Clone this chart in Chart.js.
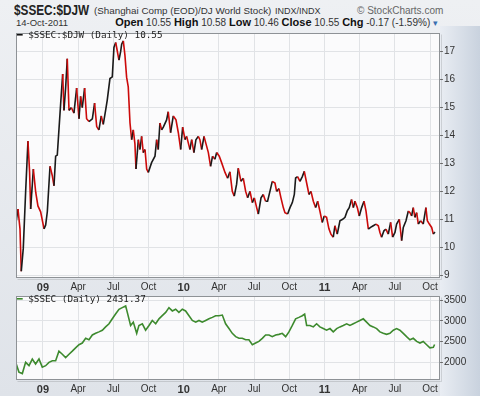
<!DOCTYPE html>
<html>
<head>
<meta charset="utf-8">
<script src="https://cdn.jsdelivr.net/npm/chart.js@4.4.0/dist/chart.umd.min.js"></script>
<style>
  html, body { margin: 0; padding: 0; }
  body {
    width: 480px; height: 396px; overflow: hidden; position: relative;
    background: linear-gradient(#eef0f3, #dfe3e9);
    font-family: "Liberation Sans", Arial, sans-serif; color: #222;
  }
  .abs { position: absolute; white-space: nowrap; }
  #strip { left: 440px; top: 26px; width: 40px; height: 370px;
    background: linear-gradient(90deg, #e9edf3, #c9d2de); }
  #title { left: 14px; top: 2px; font-size: 14px; font-weight: bold; transform: scaleX(0.84); transform-origin: left top; }
  #subtitle { left: 94px; top: 5px; font-size: 9.8px; color: #333; }
  #exch { left: 275px; top: 6px; font-size: 9px; color: #333; }
  #brand { left: 357px; top: 5px; font-size: 10px; color: #666; }
  #date { left: 16px; top: 17px; font-size: 9.5px; color: #333; }
  #quote { right: 42px; top: 16px; font-size: 10px; color: #333; }
  #quote b { font-size: 11px; color: #111; }
  #quote .arr { color: #3a6fb0; font-size: 9px; }
  .legend { font-family: "DejaVu Sans Mono", monospace; font-size: 9.3px; color: #222; }
  #leg1 { left: 17px; top: 29px; }
  #leg2 { left: 17px; top: 293px; }
  canvas { position: absolute; left: 0; }
  #c1 { top: 26px; }
  #c2 { top: 289px; }
</style>
</head>
<body>
<div class="abs" id="strip"></div>
<div class="abs" id="title">$SSEC:$DJW</div>
<div class="abs" id="subtitle">(Shanghai Comp (EOD)/DJ World Stock)</div>
<div class="abs" id="exch">INDX/INDX</div>
<div class="abs" id="brand">© StockCharts.com</div>
<div class="abs" id="date">14-Oct-2011</div>
<div class="abs" id="quote"><b>Open</b> 10.55 <b>High</b> 10.58 <b>Low</b> 10.46 <b>Close</b> 10.55 <b>Chg</b> -0.17 (-1.59%) <span class="arr">▾</span></div>
<canvas id="c1" width="480" height="266"></canvas>
<canvas id="c2" width="480" height="107"></canvas>
<div class="abs legend" id="leg1"><span style="color:#111">━</span> $SSEC:$DJW (Daily) 10.55</div>
<div class="abs legend" id="leg2"><span style="color:#3d8a2e">━</span> $SSEC (Daily) 2431.37</div>
<script>
// x values are months since Jan 2009 (0 = Jan 1 2009)
const ratioMonths = [
  -2.33,-2.13,-1.96,-1.85,-1.68,-1.48,-1.28,-1.14,-1.05,-0.82,-0.62,-0.43,-0.20,0.09,0.23,0.37,0.60,0.80,0.94,1.08,
  1.22,1.51,1.68,1.79,1.93,2.07,2.22,2.42,2.64,2.87,3.07,3.21,3.35,3.55,3.72,3.92,4.21,4.40,4.58,4.77,
  4.97,5.14,5.34,5.48,5.71,5.91,6.05,6.20,6.48,6.62,
  6.71,6.85,6.99,7.13,7.27,7.42,7.56,7.70,7.84,7.93,8.13,8.27,8.41,8.55,8.70,8.84,8.98,9.26,9.55,9.69,
  9.83,9.97,10.12,10.26,10.54,10.68,10.88,11.11,11.34,11.54,11.74,11.91,12.11,12.25,12.53,12.68,12.87,13.04,13.24,13.38,
  13.53,13.73,13.90,14.10,14.29,14.46,14.66,14.81,15.03,15.23,15.52,
  15.74,15.94,16.14,16.31,16.51,16.65,16.88,17.08,17.28,17.45,17.65,17.85,18.02,18.22,18.36,18.59,18.78,18.98,19.15,19.35,
  19.55,19.78,19.92,20.12,20.29,20.49,20.63,20.86,21.06,21.26,21.43,21.54,21.71,21.91,22.11,22.28,22.48,22.68,22.85,23.05,
  23.25,23.42,23.61,23.81,23.98,24.18,24.38,24.55,24.75,24.89,
  25.09,25.32,25.55,25.75,25.94,26.11,26.31,26.46,26.60,26.80,26.97,27.17,27.37,27.54,27.74,27.93,28.16,28.39,28.59,28.73,
  28.87,29.07,29.24,29.44,29.64,29.81,30.01,30.15,30.38,30.58,30.72,30.95,31.15,31.29,31.43,31.57,31.71,31.86,32.00,32.20,
  32.42,32.65,32.77,32.94,33.14,33.28,33.42
];
const ratioValues = [
  10.78,11.37,10.66,9.14,9.96,11.97,13.8,12.68,11.37,12.8,11.97,11.48,11.27,10.66,10.8,11.27,12.9,12.55,12.2,13.26,
  13.3,15.16,16.2,14.9,15.7,16.75,14.9,15.0,14.8,15.7,14.6,15.4,15.0,15.7,14.6,14.5,14.6,15.16,14.32,14.2,
  14.7,14.4,14.9,15.27,16.04,16.1,17.15,17.33,16.7,17.0,
  17.27,17.39,16.86,16.09,15.74,14.45,13.85,14.2,13.7,12.8,13.85,13.5,13.97,13.39,13.5,12.8,12.68,13.03,13.26,13.85,
  13.5,14.45,14.2,14.3,14.56,14.85,14.1,14.7,14.56,14.1,13.5,14.3,13.85,13.97,13.5,13.85,13.39,13.85,13.97,13.85,
  13.5,13.97,13.7,13.39,12.9,13.26,13.15,13.39,13.26,13.03,12.68,
  12.47,12.7,12.0,11.83,12.26,12.83,12.36,12.47,12.0,11.77,12.0,11.6,11.77,11.42,11.19,11.77,11.89,11.65,11.65,12.0,
  12.36,12.3,12.0,12.1,11.77,11.42,11.24,11.19,11.42,11.6,11.89,12.48,12.53,12.36,12.53,12.72,12.3,11.89,12.0,11.65,
  11.42,11.65,11.3,10.89,11.12,11.07,10.66,10.47,10.36,10.77,
  10.47,10.95,11.0,11.07,11.3,11.42,11.71,11.42,11.65,11.42,11.12,11.42,11.65,11.3,10.65,10.71,10.77,10.83,10.77,10.53,
  10.36,10.59,10.65,10.47,10.89,10.36,10.53,10.83,11.0,10.24,10.71,10.95,11.3,11.24,11.12,11.42,11.07,11.24,10.83,10.95,
  10.83,11.42,10.95,10.83,10.71,10.47,10.55
];

const ssecMonths = [
  -2.33,-2.05,-1.76,-1.48,-1.19,-0.91,-0.63,-0.34,-0.06,0.23,0.51,0.80,1.08,1.36,1.65,1.93,2.22,2.50,2.78,3.07,
  3.35,3.64,3.92,4.21,4.49,4.77,5.06,5.34,5.63,5.91,6.19,6.48,6.76,7.05,7.19,7.47,7.70,7.99,8.18,8.47,
  8.75,9.04,9.32,9.61,9.89,10.17,10.46,10.74,11.03,11.31,11.59,11.88,12.16,12.45,12.73,13.02,13.30,13.58,13.87,14.15,
  14.44,14.72,15.00,15.29,15.57,15.86,16.14,16.43,16.71,16.99,17.28,17.56,17.85,18.13,18.41,18.70,18.98,19.27,19.55,19.84,
  20.12,20.40,20.69,20.97,21.26,21.54,21.82,22.11,22.31,22.48,22.76,23.05,23.33,23.61,23.90,24.18,24.47,24.75,25.04,25.32,
  25.60,25.89,26.17,26.46,26.74,27.02,27.31,27.59,27.88,28.16,28.45,28.73,29.01,29.30,29.58,29.87,30.15,30.43,30.72,31.00,
  31.29,31.57,31.86,32.14,32.42,32.71,32.99,33.28,33.39
];
const ssecValues = [
  2000,1765,1730,2000,1920,2080,1960,2080,1885,1920,2000,2040,2040,2270,2195,2115,2195,2270,2350,2425,
  2465,2580,2545,2660,2700,2735,2775,2855,2930,3050,3165,3280,3320,3360,3205,2890,2970,2700,2890,2930,
  2775,2890,3010,2930,3050,3125,3205,3320,3240,3280,3205,3280,3240,3125,3010,2970,3010,2970,3010,3050,
  3085,3125,3125,3140,2930,2815,2700,2620,2580,2580,2545,2545,2425,2465,2505,2580,2660,2660,2620,2660,
  2675,2700,2620,2735,2890,3050,3085,3125,3165,2890,2890,2855,2930,2855,2815,2775,2815,2735,2815,2855,
  2890,2930,2890,2930,2970,3010,3050,2970,2890,2855,2815,2735,2700,2675,2700,2775,2815,2775,2700,2620,
  2545,2580,2505,2465,2505,2425,2350,2365,2431.37
];

const quarterTicks = [0, 3, 6, 9, 12, 15, 18, 21, 24, 27, 30, 33];
const ratioTicks = [9, 10, 11, 12, 13, 14, 15, 16, 17];
const ssecTicks = [2000, 2500, 3000, 3500];
const monthNames = { 3: "Apr", 6: "Jul", 9: "Oct" };

function pairs(xs, ys) {
  return xs.map((x, i) => ({ x: x, y: ys[i] }));
}

function quarterLabel(v) {
  if (v % 12 === 0) return String(9 + v / 12).padStart(2, "0");
  return monthNames[v % 12];
}

// plot background and frame
const framePlugin = {
  id: "frame",
  beforeDraw(chart) {
    const a = chart.chartArea, c = chart.ctx;
    c.save();
    c.fillStyle = "#fbfbfc";
    c.fillRect(a.left, a.top, a.right - a.left, a.bottom - a.top);
    c.restore();
  },
  afterDraw(chart) {
    const a = chart.chartArea, c = chart.ctx;
    c.save();
    c.strokeStyle = "#8e9296";
    c.lineWidth = 1;
    c.strokeRect(a.left + 0.5, a.top + 0.5, a.right - a.left - 1, a.bottom - a.top - 1);
    c.strokeStyle = "rgba(0,0,0,0.12)";
    c.beginPath();
    c.moveTo(a.left + 1.5, a.bottom + 1.5);
    c.lineTo(a.right + 1.5, a.bottom + 1.5);
    c.lineTo(a.right + 1.5, a.top + 1.5);
    c.stroke();
    c.restore();
  }
};

function makeOptions(yMin, yMax, yTicks, xHeight) {
  return {
    responsive: false,
    animation: false,
    layout: { padding: { left: 16, right: 0, top: 4, bottom: 0 } },
    plugins: { legend: { display: false }, tooltip: { enabled: false } },
    elements: { point: { radius: 0 }, line: { tension: 0 } },
    scales: {
      x: {
        type: "linear",
        min: -2.3,
        max: 33.85,
        afterBuildTicks: (s) => { s.ticks = quarterTicks.map(v => ({ value: v })); },
        afterFit: (s) => { s.height = xHeight; },
        grid: { color: "#e1e3e6", drawTicks: false },
        border: { display: false },
        ticks: {
          padding: 3,
          maxRotation: 0,
          autoSkip: false,
          color: "#333",
          font: (ctx) => ({
            family: "Liberation Sans, Arial",
            size: ctx.tick && ctx.tick.value % 12 === 0 ? 11 : 10,
            weight: ctx.tick && ctx.tick.value % 12 === 0 ? "bold" : "normal"
          }),
          callback: (v) => quarterLabel(v)
        }
      },
      y: {
        position: "right",
        min: yMin,
        max: yMax,
        afterBuildTicks: (s) => { s.ticks = yTicks.map(v => ({ value: v })); },
        afterFit: (s) => { s.width = 40; },
        grid: { color: "#e1e3e6", tickLength: 3, tickColor: "#777" },
        border: { display: false },
        ticks: {
          padding: 1,
          color: "#333",
          font: { family: "Liberation Sans, Arial", size: 10 },
          callback: (v) => String(v)
        }
      }
    }
  };
}

new Chart(document.getElementById("c1"), {
  type: "line",
  data: {
    datasets: [{
      data: pairs(ratioMonths, ratioValues),
      borderWidth: 1.6,
      borderColor: "#1a1a1a",
      segment: {
        borderColor: (ctx) => ctx.p1.parsed.y < ctx.p0.parsed.y ? "#cc0a0a" : "#1a1a1a"
      }
    }]
  },
  options: makeOptions(8.9, 17.67, ratioTicks, 14),
  plugins: [framePlugin]
});

new Chart(document.getElementById("c2"), {
  type: "line",
  data: {
    datasets: [{
      data: pairs(ssecMonths, ssecValues),
      borderWidth: 1.6,
      borderColor: "#3d8a2e"
    }]
  },
  options: makeOptions(1575, 3600, ssecTicks, 16),
  plugins: [framePlugin]
});
</script>
</body>
</html>
